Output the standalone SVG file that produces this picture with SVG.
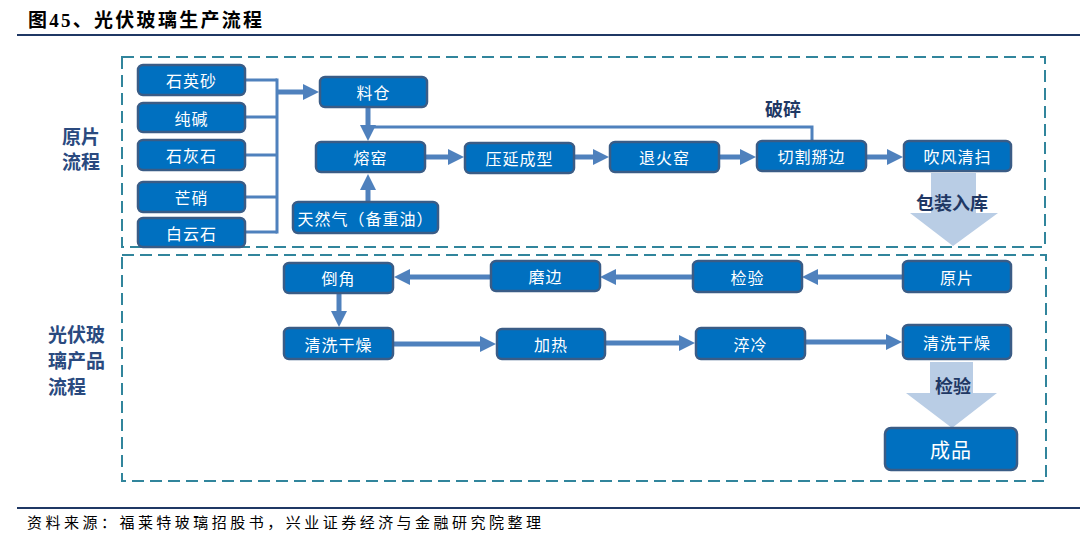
<svg xmlns="http://www.w3.org/2000/svg" width="1080" height="535" viewBox="0 0 1080 535">
<defs>
<style>
.frame{fill:none;stroke:#31859C;stroke-width:2;stroke-dasharray:12 6}
.node rect{fill:#0070C0;stroke:#3A5C86;stroke-width:2.5}
.node text{fill:#FFFFFF;font-family:"Noto Sans CJK SC",sans-serif;font-size:16px;text-anchor:middle;dominant-baseline:central;letter-spacing:1px}
.bus{fill:none;stroke:#4F81BD;stroke-width:3}
.arr{fill:none;stroke:#4F81BD;stroke-width:5}
.block{fill:#B9CDE5}
.lbl{fill:#1F3864;font-family:"Noto Sans CJK SC",sans-serif;font-weight:bold;font-size:18px;text-anchor:middle;dominant-baseline:central}
.side{fill:#2A4A7F;font-family:"Noto Sans CJK SC",sans-serif;font-weight:bold;font-size:19px;dominant-baseline:central}
</style>
<marker id="ah" markerUnits="userSpaceOnUse" markerWidth="16" markerHeight="16" refX="4" refY="8" orient="auto">
<path d="M0,0 L16,8 L0,16 z" fill="#4F81BD"/>
</marker>
</defs>
<rect width="1080" height="535" fill="#FFFFFF"/>
<text x="28" y="27" font-family="Liberation Serif, 'Noto Sans CJK SC', serif" font-weight="bold" font-size="19" fill="#000000" textLength="234" lengthAdjust="spacing">图45、光伏玻璃生产流程</text>
<line x1="17" y1="35" x2="1080" y2="35" stroke="#1F3864" stroke-width="2"/>
<line x1="17" y1="508" x2="1080" y2="508" stroke="#1F3864" stroke-width="2"/>
<text x="27" y="528" font-family="'Noto Sans CJK SC', sans-serif" font-size="15" fill="#000000" textLength="514" lengthAdjust="spacing">资料来源：福莱特玻璃招股书，兴业证券经济与金融研究院整理</text>

<rect class="frame" x="122" y="57" width="923" height="190"/>
<rect class="frame" x="122" y="255" width="924" height="226"/>

<g id="side-labels">
<text class="side" x="62" y="135">原片</text>
<text class="side" x="62" y="160">流程</text>
<text class="side" x="48" y="333">光伏玻</text>
<text class="side" x="48" y="359">璃产品</text>
<text class="side" x="48" y="385">流程</text>
</g>

<g id="connectors">
<polyline class="bus" points="245,80 277,80"/>
<polyline class="bus" points="245,117 277,117"/>
<polyline class="bus" points="245,155 277,155"/>
<polyline class="bus" points="245,197 277,197"/>
<polyline class="bus" points="245,232 277,232"/>
<line class="bus" x1="277" y1="78.5" x2="277" y2="233.5"/>
<line class="arr" x1="277" y1="92" x2="307" y2="92" marker-end="url(#ah)"/>
<polyline class="bus" points="368,127 812,127 812,141"/>
<line class="arr" x1="368" y1="108" x2="368" y2="129" marker-end="url(#ah)"/>
<line class="arr" x1="368" y1="201" x2="368" y2="186" marker-end="url(#ah)"/>
<line class="arr" x1="425" y1="157" x2="452" y2="157" marker-end="url(#ah)"/>
<line class="arr" x1="574" y1="157" x2="597" y2="157" marker-end="url(#ah)"/>
<line class="arr" x1="719" y1="157" x2="744" y2="157" marker-end="url(#ah)"/>
<line class="arr" x1="866" y1="157" x2="891" y2="157" marker-end="url(#ah)"/>
<line class="arr" x1="903" y1="277" x2="814" y2="277" marker-end="url(#ah)"/>
<line class="arr" x1="693" y1="277" x2="612" y2="277" marker-end="url(#ah)"/>
<line class="arr" x1="491" y1="277" x2="406" y2="277" marker-end="url(#ah)"/>
<line class="arr" x1="339" y1="294" x2="339" y2="315" marker-end="url(#ah)"/>
<line class="arr" x1="393" y1="344" x2="484" y2="344" marker-end="url(#ah)"/>
<line class="arr" x1="605" y1="343" x2="683" y2="343" marker-end="url(#ah)"/>
<line class="arr" x1="805" y1="342" x2="890" y2="342" marker-end="url(#ah)"/>
<polygon class="block" points="931,173 976,173 976,213 998,213 953,246 910,213 931,213"/>
<polygon class="block" points="930,362 973,362 973,393 997,393 952,428 906,393 930,393"/>
<text class="lbl" x="783" y="108">破碎</text>
<text class="lbl" x="952" y="202">包装入库</text>
<text class="lbl" x="953" y="385">检验</text>
</g>

<g id="n-shiyingsha" class="node"><rect x="138" y="65" width="107" height="30" rx="5"/><text x="191.5" y="80">石英砂</text></g>
<g id="n-chunjian" class="node"><rect x="138" y="103" width="107" height="29" rx="5"/><text x="191.5" y="117.5">纯碱</text></g>
<g id="n-shihuishi" class="node"><rect x="138" y="140" width="107" height="30" rx="5"/><text x="191.5" y="155">石灰石</text></g>
<g id="n-mangxiao" class="node"><rect x="138" y="182" width="107" height="30" rx="5"/><text x="191.5" y="197">芒硝</text></g>
<g id="n-baiyunshi" class="node"><rect x="138" y="218" width="107" height="29" rx="5"/><text x="191.5" y="232.5">白云石</text></g>
<g id="n-liaocang" class="node"><rect x="320" y="77" width="107" height="30" rx="5"/><text x="373.5" y="92">料仓</text></g>
<g id="n-rongyao" class="node"><rect x="316" y="142" width="109" height="30" rx="5"/><text x="370.5" y="157">熔窑</text></g>
<g id="n-tianranqi" class="node"><rect x="293" y="202" width="145" height="31" rx="5"/><text x="365.5" y="217.5">天然气（备重油）</text></g>
<g id="n-yayan" class="node"><rect x="465" y="143" width="109" height="30" rx="5"/><text x="519.5" y="158">压延成型</text></g>
<g id="n-tuihuo" class="node"><rect x="610" y="142" width="109" height="30" rx="5"/><text x="664.5" y="157">退火窑</text></g>
<g id="n-qiege" class="node"><rect x="757" y="141" width="109" height="30" rx="5"/><text x="811.5" y="156">切割掰边</text></g>
<g id="n-chuifeng" class="node"><rect x="904" y="141" width="107" height="30" rx="5"/><text x="957.5" y="156">吹风清扫</text></g>

<g id="n-yuanpian" class="node"><rect x="903" y="261" width="108" height="31" rx="5"/><text x="957" y="276.5">原片</text></g>
<g id="n-jianyan" class="node"><rect x="693" y="261" width="109" height="31" rx="5"/><text x="747.5" y="276.5">检验</text></g>
<g id="n-mobian" class="node"><rect x="491" y="261" width="109" height="30" rx="5"/><text x="545.5" y="276">磨边</text></g>
<g id="n-daojiao" class="node"><rect x="284" y="263" width="109" height="30" rx="5"/><text x="338.5" y="278">倒角</text></g>
<g id="n-qingxi1" class="node"><rect x="284" y="328" width="109" height="31" rx="5"/><text x="338.5" y="343.5">清洗干燥</text></g>
<g id="n-jiare" class="node"><rect x="497" y="329" width="108" height="30" rx="5"/><text x="551" y="344">加热</text></g>
<g id="n-cuileng" class="node"><rect x="696" y="328" width="109" height="31" rx="5"/><text x="750.5" y="343.5">淬冷</text></g>
<g id="n-qingxi2" class="node"><rect x="903" y="325" width="108" height="34" rx="5"/><text x="957" y="342">清洗干燥</text></g>
<g id="n-chengpin" class="node"><rect x="885" y="428" width="132" height="42" rx="6"/><text x="951" y="449" style="font-size:20px">成品</text></g>
</svg>
